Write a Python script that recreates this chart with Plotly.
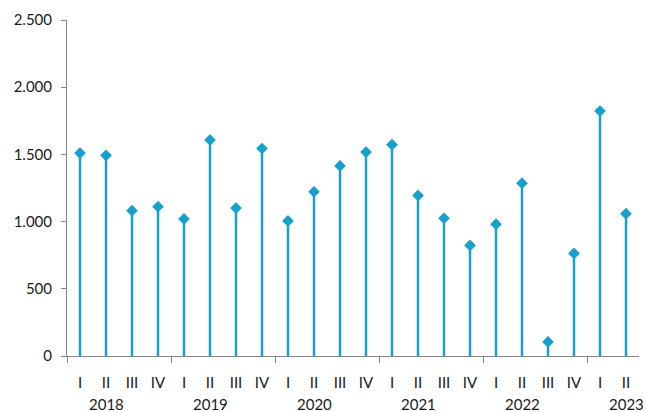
import plotly.graph_objects as go

years = ["2018", "2019", "2020", "2021", "2022", "2023"]
quarters = ["I", "II", "III", "IV", "I", "II", "III", "IV", "I", "II", "III", "IV",
            "I", "II", "III", "IV", "I", "II", "III", "IV", "I", "II"]
values = [1510, 1493, 1081, 1111,
          1020, 1608, 1101, 1544,
          1005, 1222, 1414, 1517,
          1572, 1195, 1025, 823,
          981, 1286, 105, 763,
          1823, 1059]
year_counts = [4, 4, 4, 4, 4, 2]
y_ticks = [0, 500, 1000, 1500, 2000, 2500]

COLOR = "#17a0cc"
AXIS = "#868686"
FONT = "Lato"
TEXT = "#1a1a1a"

idx = list(range(len(values)))

# stems
sx, sy = [], []
for i, v in zip(idx, values):
    sx += [i, i, None]
    sy += [0, v, None]

fig = go.Figure()
fig.add_trace(go.Scatter(x=sx, y=sy, mode="lines",
                         line=dict(color=COLOR, width=2.5),
                         hoverinfo="skip", showlegend=False))
fig.add_trace(go.Scatter(x=idx, y=values, mode="markers",
                         marker=dict(symbol="diamond", size=9, color=COLOR),
                         showlegend=False))

# group boundaries and year label positions
bounds = [-0.5]
label_pos = []
start = 0
for c in year_counts:
    label_pos.append(start + 1)
    start += c
    bounds.append(start - 0.5)
bounds = bounds[:-1]

for yr, p in zip(years, label_pos):
    fig.add_annotation(x=p, y=0, xref="x", yref="paper", text=yr,
                       showarrow=False, yanchor="middle", xanchor="center",
                       yshift=-48,
                       font=dict(family=FONT, size=15, color=TEXT))

fig.update_layout(
    width=646, height=412,
    margin=dict(l=67, r=7, t=20, b=56),
    paper_bgcolor="white", plot_bgcolor="white",
    separators=",.",
    font=dict(family=FONT, size=15, color=TEXT),
    xaxis=dict(
        range=[-0.5, len(values) - 0.5],
        tickmode="array", tickvals=idx, ticktext=quarters,
        ticks="", showgrid=False, zeroline=False, automargin=False,
        showline=True, linecolor=AXIS, linewidth=1,
        ticklabelstandoff=13,
        minor=dict(tickmode="array", tickvals=bounds, ticks="outside",
                   ticklen=6, tickcolor=AXIS, tickwidth=1, showgrid=False),
    ),
    yaxis=dict(
        range=[0, 2500], tickmode="array", tickvals=y_ticks,
        tickformat=",d", ticks="outside", ticklen=5, tickcolor=AXIS,
        showgrid=False, zeroline=False, automargin=False,
        showline=True, linecolor=AXIS, linewidth=1,
        ticklabelstandoff=6,
    ),
)

fig.write_html("out.html",
               config={"displayModeBar": False},
               post_script="document.body.style.margin='0';document.body.style.overflow='hidden';")
